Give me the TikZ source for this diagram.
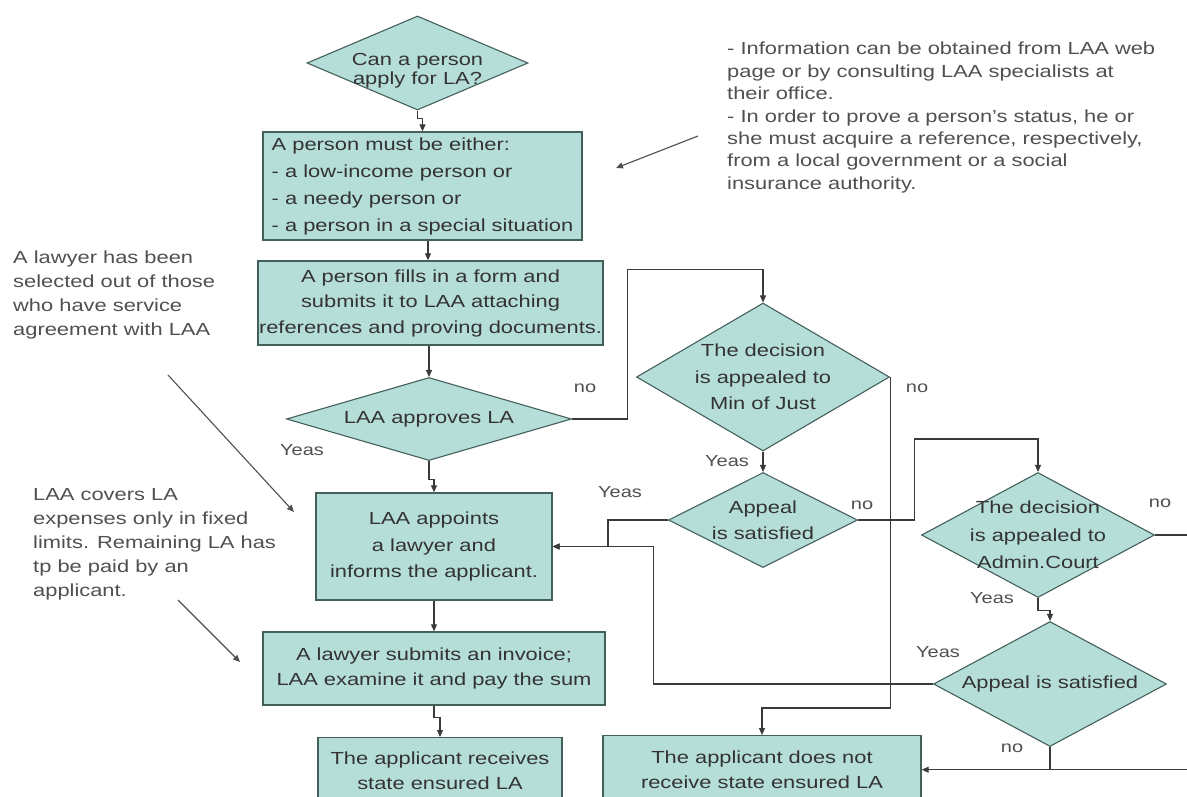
\documentclass[tikz,border=0pt]{standalone}
\usepackage{fontspec}
\setmainfont{Liberation Sans}[FakeStretch=1.25]
\usetikzlibrary{shapes.geometric,arrows.meta,calc}
\definecolor{fillc}{HTML}{B6DED8}
\definecolor{edgec}{HTML}{44605B}
\definecolor{linec}{HTML}{3A3A3A}
\definecolor{txtc}{HTML}{333333}
\definecolor{notec}{HTML}{505050}
\tikzset{
  box/.style={draw=edgec, fill=fillc, line width=1.4pt, rectangle, inner sep=0pt, text=txtc, align=center},
  dia/.style={draw=edgec, fill=fillc, line width=1.1pt, diamond, inner sep=0pt},
  dtxt/.style={text=txtc, align=center, inner sep=0pt},
  lbl/.style={text=notec, inner sep=0pt, font=\fontsize{16}{19}\selectfont},
  note/.style={text=notec, align=left, inner sep=0pt, anchor=north west},
  conn/.style={draw=linec, line width=1.1pt},
  arr/.style={conn, -{Triangle[length=7pt,width=6pt]}},
}
\begin{document}
\begin{tikzpicture}[x=1pt,y=-1pt]
\useasboundingbox (0,0) rectangle (1187,796);
\fill[white] (0,0) rectangle (1187,796);
\clip (0,0) rectangle (1187,796);

% diamonds
\node[dia, minimum width=221pt, minimum height=94pt] (d1) at (417.5,63) {};
\node[dtxt, font=\fontsize{17.5}{19}\selectfont] (d1t) at (417.5,71) {Can a person\\apply for LA?};

\node[dia, minimum width=285pt, minimum height=83pt] (dapp) at (429,419) {};
\node[dtxt, font=\fontsize{17.5}{20}\selectfont] (dappt) at (429,419) {LAA approves LA};

\node[dia, minimum width=253pt, minimum height=148pt] (dmin) at (763,377) {};
\node[dtxt, font=\fontsize{17.5}{26.5}\selectfont] (dmint) at (763,377) {The decision\\is appealed to\\Min of Just};

\node[dia, minimum width=189pt, minimum height=95pt] (dsat1) at (763,520) {};
\node[dtxt, font=\fontsize{17.5}{26}\selectfont] (dsat1t) at (763,520) {Appeal\\is satisfied};

\node[dia, minimum width=233pt, minimum height=125pt] (dadm) at (1038,535) {};
\node[dtxt, font=\fontsize{17.5}{27.5}\selectfont] (dadmt) at (1038,535) {The decision\\is appealed to\\Admin.Court};

\node[dia, minimum width=233pt, minimum height=125pt] (dsat2) at (1050,684) {};
\node[dtxt, font=\fontsize{17.5}{20}\selectfont] (dsat2t) at (1050,684) {Appeal is satisfied};

% boxes
\node[box, minimum width=319pt, minimum height=108pt, align=left, font=\fontsize{17.5}{27}\selectfont] (box2) at (422.5,186)
  {A person must be either:\\- a low-income person or\\- a needy person or\\- a person in a special situation};
\node[box, minimum width=345pt, minimum height=84pt, font=\fontsize{17.5}{25.5}\selectfont] (box3) at (430.5,303)
  {A person fills in a form and\\submits it to LAA attaching\\references and proving documents.};
\node[box, minimum width=236pt, minimum height=107pt, font=\fontsize{17.5}{26.5}\selectfont] (appoints) at (434,546.5)
  {LAA appoints\\a lawyer and\\informs the applicant.};
\node[box, minimum width=342pt, minimum height=73pt, font=\fontsize{17.5}{25}\selectfont] (submits) at (434,668.5)
  {A lawyer submits an invoice;\\LAA examine it and pay the sum};
\node[box, minimum width=244pt, minimum height=66pt, anchor=north, font=\fontsize{17.5}{25}\selectfont] (receives) at (440,737)
  {The applicant receives\\state ensured LA};
\node[box, minimum width=318pt, minimum height=68pt, anchor=north, font=\fontsize{17.5}{25}\selectfont] (doesnot) at (762,735)
  {The applicant does not\\receive state ensured LA};

% notes
\node[note, font=\fontsize{17.5}{22.4}\selectfont] (noteR) at (727,42)
  {- Information can be obtained from LAA web\\page or by consulting LAA specialists at\\their office.\\- In order to prove a person's status, he or\\she must acquire a reference, respectively,\\from a local government or a social\\insurance authority.};
\node[note, font=\fontsize{17.5}{24}\selectfont] (noteL1) at (13,251)
  {A lawyer has been\\selected out of those\\who have service\\agreement with LAA};
\node[note, font=\fontsize{17.5}{24}\selectfont] (noteL2) at (33,488)
  {LAA covers LA\\expenses only in fixed\\limits. Remaining LA has\\tp be paid by an\\applicant.};

% labels
\node[lbl] (l1) at (585,388) {no};
\node[lbl] (l2) at (302,450) {Yeas};
\node[lbl] (l3) at (917,388) {no};
\node[lbl] (l4) at (727,461) {Yeas};
\node[lbl] (l5) at (620,492) {Yeas};
\node[lbl] (l6) at (862,505) {no};
\node[lbl] (l7) at (1160,503) {no};
\node[lbl] (l8) at (992,598) {Yeas};
\node[lbl] (l9) at (938,652) {Yeas};
\node[lbl] (l10) at (1012,748) {no};

% connectors
\draw[arr] (d1.south) -- ++(0,8) -| (box2.north);
\draw[arr] ([xshift=5.5pt]box2.south) -- ([xshift=5.5pt]box2.south |- box3.north);
\draw[arr] (box3.south -| dapp.north) -- (dapp.north);
\draw[arr] (dapp.east) -- ++(55,0) |- ($(dmin.north)+(0,-33)$) -- (dmin.north);
\draw[arr] (dapp.south) -- ++(0,18) -| (appoints.north);
\draw[arr] (appoints.south) -- (appoints.south |- submits.north);
\draw[arr] (submits.south) -- ++(0,12) -| (receives.north);
\draw[arr] (dmin.south) -- (dsat1.north);
\draw[arr] (dmin.east) -- ($(dmin.east |- doesnot.north)+(0,-27)$) -| (doesnot.north);
\draw[arr] (dsat1.west) -- ++(-60,0) |- (appoints.east);
\draw[arr] (dsat1.east) -- ++(56,0) |- ($(dadm.north)+(0,-33)$) -- (dadm.north);
\draw[arr] (dadm.south) -- ++(0,12) -| (dsat2.north);
\draw[arr] (dadm.east) -- ++(60,0) |- (doesnot.east);
\draw[arr] (dsat2.west) -- ++(-279.5,0) |- (appoints.east);
\draw[conn] (dsat2.south) -- (dsat2.south |- doesnot.east);

% annotation arrows
\coordinate (aR1) at (698,136);
\coordinate (aR2) at (616,168);
\coordinate (aL1) at (168,375);
\coordinate (aL2) at (294,512);
\coordinate (aM1) at (178,600);
\coordinate (aM2) at (240,662);
\draw[arr, draw=notec] (aR1) -- (aR2);
\draw[arr, draw=notec] (aL1) -- (aL2);
\draw[arr, draw=notec] (aM1) -- (aM2);
\end{tikzpicture}
\end{document}
